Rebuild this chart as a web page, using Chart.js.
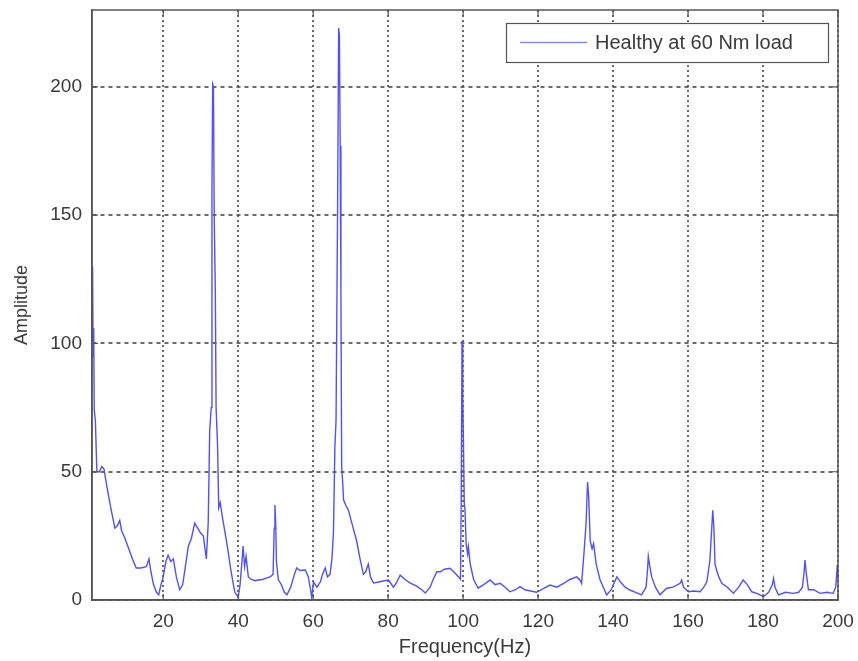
<!DOCTYPE html>
<html>
<head>
<meta charset="utf-8">
<title>Healthy at 60 Nm load</title>
<script src="https://cdn.jsdelivr.net/npm/chart.js@4/dist/chart.umd.min.js"></script>
<style>
  html, body { margin: 0; padding: 0; background: #fff; }
  #spectrum { display: block; }
</style>
</head>
<body>
<canvas id="spectrum" width="858" height="661"></canvas>
<script>
// 周波数 (Hz) と振幅 — 図から読み取った値
const freqHz = [
  1.0, 1.15, 1.3, 1.45, 1.6, 1.9, 2.3, 3.0, 3.6, 4.2,
  5.0, 6.0, 7.1, 7.8, 8.4, 8.9, 9.8, 10.8, 11.8, 12.8,
  14.0, 15.5, 16.2, 16.6, 17.4, 18.2, 18.8, 19.4, 20.0, 20.7,
  21.3, 22.0, 22.7, 23.5, 24.4, 25.2, 26.0, 26.7, 27.5, 28.4,
  29.2, 30.0, 30.7, 31.5, 32.0, 32.4, 32.8, 33.0, 33.2, 33.4,
  33.6, 33.9, 34.1, 34.5, 34.8, 35.2, 35.7, 36.4, 37.2, 38.0,
  38.6, 39.1, 39.6, 40.0, 40.5, 41.0, 41.3, 41.7, 42.1, 42.7,
  43.5, 44.5, 45.3, 46.5, 47.5, 48.5, 49.3, 49.6, 49.8, 50.0,
  50.2, 50.7, 51.5, 52.3, 53.0, 54.0, 55.0, 55.6, 56.5, 57.9,
  58.7, 59.3, 59.6, 60.1, 61.0, 61.9, 62.5, 63.2, 63.8, 64.5,
  65.0, 65.4, 65.8, 66.1, 66.5, 66.8, 67.0, 67.2, 67.4, 67.6,
  67.9, 68.1, 68.7, 69.4, 70.5, 71.6, 72.5, 73.4, 74.0, 74.7,
  75.3, 76.1, 77.5, 79.0, 80.1, 81.4, 82.3, 83.2, 84.5, 85.9,
  87.5, 89.0, 89.9, 91.2, 92.0, 93.0, 93.9, 95.0, 96.5, 97.5,
  98.8, 99.3, 99.5, 99.7, 99.9, 100.1, 100.3, 100.5, 100.8, 101.2,
  101.4, 101.9, 102.8, 104.0, 105.5, 107.2, 108.5, 109.9, 111.2, 112.5,
  114.0, 115.2, 116.5, 118.0, 119.6, 121.5, 123.2, 125.0, 126.8, 128.5,
  130.3, 131.3, 131.6, 132.3, 132.8, 133.2, 133.5, 133.9, 134.4, 134.8,
  135.5, 136.5, 137.4, 138.3, 139.5, 141.0, 142.0, 143.2, 144.5, 146.0,
  147.6, 148.8, 149.2, 149.4, 149.7, 150.3, 151.3, 152.5, 154.3, 156.0,
  157.9, 158.3, 158.8, 160.1, 161.5, 163.2, 164.2, 165.0, 165.8, 166.2,
  166.6, 166.9, 167.2, 167.6, 168.2, 169.0, 170.5, 172.1, 173.5, 174.7,
  175.8, 177.0, 178.5, 180.1, 181.5, 182.5, 182.8, 183.2, 184.1, 186.0,
  188.1, 189.5, 190.5, 190.9, 191.2, 191.5, 192.1, 193.5, 195.2, 197.0,
  198.7, 199.4, 199.8, 200.0
];

const amplitude = [
  128, 130, 95, 106, 74, 70, 50, 50, 52, 51,
  44, 36, 28, 29, 31, 27, 24, 20, 16, 12.5,
  12.5, 13, 16, 12, 6, 3, 2, 6, 9, 15,
  17.5, 15, 16, 9, 4, 6, 14, 21, 24, 30,
  28, 26, 25, 16, 30, 66, 75, 160, 201, 200,
  150, 120, 75, 60, 36, 38, 33, 27, 20, 12,
  7, 3, 2, 1, 6, 15, 21, 13, 17, 9,
  8, 7.5, 7.8, 8, 8.5, 9, 10, 28, 37, 30,
  15, 8, 6, 3, 2, 5, 10, 12.5, 11.5, 11.7,
  9, 4, 1, 7, 5, 7, 10, 12.5, 9, 10,
  16, 26, 60, 70, 150, 223, 220, 177, 120, 52,
  45, 39, 37, 35, 29, 23, 16, 10, 11, 14,
  9, 6.6, 7, 7.5, 7.8, 5, 7, 9.7, 8, 6.6,
  5.5, 4, 2.7, 5, 8, 11, 11, 12, 12.4, 11,
  9, 8, 40, 101, 78, 60, 38, 35, 22, 18,
  20.7, 14, 8, 4.6, 6, 7.8, 6, 6.5, 5, 3.2,
  4, 5.2, 4, 3.5, 3, 4.5, 5.8, 5, 6.5, 8,
  9, 7.5, 6.5, 19.5, 30, 46, 40, 23, 20, 22,
  14, 8, 5, 2, 4, 9, 7, 5, 3.9, 3,
  2, 5, 12, 17, 14, 9, 5, 2, 4.6, 5,
  6.5, 7.8, 5, 3.2, 3.5, 3.2, 5, 7, 15, 25,
  35, 28, 14, 11.7, 9, 6.5, 5, 2.6, 5, 7.8,
  6, 3.2, 2.5, 1.3, 3, 6, 8.4, 5, 2, 3,
  2.6, 3, 5, 10, 15.6, 11, 4, 4, 2.6, 3,
  2.6, 5, 13.6, 8
];

const xTicks = [20, 40, 60, 80, 100, 120, 140, 160, 180, 200];
const yTicks = [0, 50, 100, 150, 200];
const seriesLabel = "Healthy at 60 Nm load";

if (freqHz.length !== amplitude.length) {
  console.error("length mismatch", freqHz.length, amplitude.length);
}

const lineColor = "#5050ff";
const axisColor = "#555";
const textColor = "#3a3a3a";
const gridColor = "rgba(80,80,80,0.85)";
const fontFamily = "'Liberation Sans', Arial, sans-serif";

// 枠線・内向き目盛り・凡例
const boxPlugin = {
  id: "boxPlugin",
  afterDraw(chart) {
    const { ctx, chartArea: a, scales } = chart;
    ctx.save();
    ctx.setLineDash([]);
    ctx.strokeStyle = axisColor;
    ctx.lineWidth = 1.5;
    ctx.strokeRect(a.left, a.top, a.right - a.left, a.bottom - a.top);

    // 内向き目盛り
    ctx.lineWidth = 1.2;
    const tl = 6;
    xTicks.forEach((v) => {
      const x = scales.x.getPixelForValue(v);
      ctx.beginPath();
      ctx.moveTo(x, a.bottom); ctx.lineTo(x, a.bottom - tl);
      ctx.moveTo(x, a.top); ctx.lineTo(x, a.top + tl);
      ctx.stroke();
    });
    yTicks.forEach((v) => {
      const y = scales.y.getPixelForValue(v);
      ctx.beginPath();
      ctx.moveTo(a.left, y); ctx.lineTo(a.left + tl, y);
      ctx.moveTo(a.right, y); ctx.lineTo(a.right - tl, y);
      ctx.stroke();
    });

    // 凡例
    const lx = 506, ly = 23, lw = 322, lh = 39;
    ctx.fillStyle = "#fff";
    ctx.fillRect(lx, ly, lw, lh);
    ctx.strokeStyle = axisColor;
    ctx.lineWidth = 1.2;
    ctx.strokeRect(lx + 0.5, ly + 0.5, lw, lh);
    ctx.strokeStyle = "#8a8ae8";
    ctx.lineWidth = 1.5;
    ctx.beginPath();
    ctx.moveTo(lx + 14, ly + lh / 2);
    ctx.lineTo(lx + 81, ly + lh / 2);
    ctx.stroke();
    ctx.fillStyle = textColor;
    ctx.font = "20px " + fontFamily;
    ctx.textBaseline = "middle";
    ctx.textAlign = "left";
    ctx.fillText(chart.data.datasets[0].label, lx + 89, ly + lh / 2 + 1);
    ctx.restore();
  },
};

const points = freqHz.map((f, i) => ({ x: f, y: amplitude[i] }));

new Chart(document.getElementById("spectrum"), {
  type: "line",
  data: {
    datasets: [
      {
        label: seriesLabel,
        data: points,
        borderColor: lineColor,
        borderWidth: 1.4,
        pointRadius: 0,
        tension: 0,
        fill: false,
      },
    ],
  },
  options: {
    responsive: false,
    animation: false,
    devicePixelRatio: 1,
    layout: { padding: { top: 10, right: 20, left: 0, bottom: 0 } },
    plugins: {
      legend: { display: false },
      tooltip: { enabled: false },
    },
    scales: {
      x: {
        type: "linear",
        min: 1,
        max: 200,
        afterBuildTicks: (scale) => {
          scale.ticks = xTicks.map((v) => ({ value: v }));
        },
        afterFit: (scale) => {
          scale.height = 61;
          scale.paddingLeft = 0;
          scale.paddingRight = 0;
        },
        border: { display: true, color: axisColor, width: 1.5, dash: [2, 3] },
        grid: {
          color: gridColor,
          lineWidth: 2,
          drawTicks: false,
        },
        ticks: {
          padding: 10,
          color: textColor,
          font: { family: fontFamily, size: 19 },
          maxRotation: 0,
        },
        title: {
          display: true,
          text: "Frequency(Hz)",
          color: textColor,
          font: { family: fontFamily, size: 20 },
          padding: { top: 0, bottom: 2 },
        },
      },
      y: {
        min: 0,
        max: 230,
        afterBuildTicks: (scale) => {
          scale.ticks = yTicks.map((v) => ({ value: v }));
        },
        afterFit: (scale) => {
          scale.width = 92;
          scale.paddingTop = 0;
          scale.paddingBottom = 0;
        },
        border: { display: true, color: axisColor, width: 1.5, dash: [4, 4] },
        grid: {
          color: gridColor,
          lineWidth: 2,
          drawTicks: false,
        },
        ticks: {
          padding: 10,
          color: textColor,
          font: { family: fontFamily, size: 19 },
        },
        title: {
          display: true,
          text: "Amplitude",
          color: textColor,
          font: { family: fontFamily, size: 18 },
          padding: { top: 11, bottom: 0 },
        },
      },
    },
  },
  plugins: [boxPlugin],
});
</script>
</body>
</html>
